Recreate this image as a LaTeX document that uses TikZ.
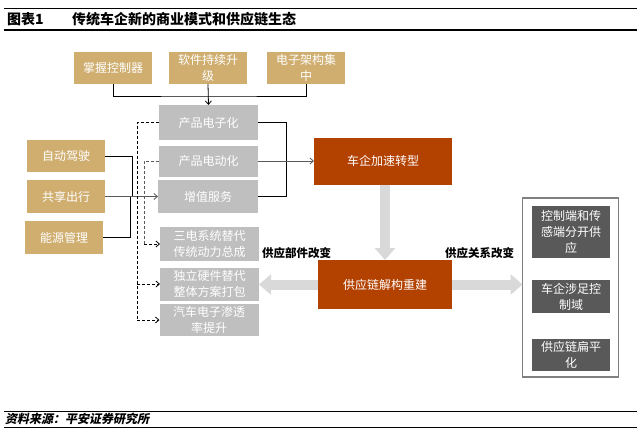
\documentclass[tikz,border=0pt]{standalone}
\usepackage{fontspec}
\setmainfont{Noto Sans CJK SC}
\usetikzlibrary{arrows.meta,calc}
\definecolor{tan}{RGB}{207,174,112}
\definecolor{boxgray}{RGB}{191,191,191}
\definecolor{rust}{RGB}{179,65,0}
\definecolor{dkgray}{RGB}{89,89,89}
\definecolor{argray}{RGB}{217,217,217}
\definecolor{frame}{RGB}{128,128,128}
\tikzset{
  every node/.style={inner sep=0pt, outer sep=0pt},
  boxtext/.style={text=white, align=center, font=\fontsize{12}{16}\selectfont},
  tanbox/.style={boxtext, fill=tan, minimum width=78pt, minimum height=32pt},
  graybox/.style={boxtext, fill=boxgray, minimum width=99pt},
  rustbox/.style={boxtext, fill=rust},
  darkbox/.style={boxtext, fill=dkgray, minimum width=78pt},
  conn/.style={line width=0.8pt, black},
  connarrow/.style={conn, -{Straight Barb[length=3.5pt,width=6pt]}},
  dashconn/.style={line width=0.8pt, black, dash pattern=on 3pt off 2pt},
  bigarrow/.style={argray, line width=10pt, -{Triangle[width=20pt,length=12pt]}},
  lbl/.style={font=\fontsize{11.5}{14}\selectfont\bfseries, text=black},
}
\begin{document}
\begin{tikzpicture}[x=1pt,y=-1pt]
\useasboundingbox (0,0) rectangle (643,444);
% header
\draw[line width=1pt] (4,9) -- (637,9);
\draw[line width=1.2pt] (4,30) -- (637,30);
\node[anchor=west, font=\fontsize{14}{16}\selectfont\bfseries] (fig) at (7,19.5) {图表1};
\node[anchor=west, font=\fontsize{14}{16}\selectfont\bfseries] (title) at (72,19.5) {传统车企新的商业模式和供应链生态};
% footer
\draw[line width=1pt] (4,411) -- (637,411);
\draw[line width=1pt] (4,427) -- (637,427);
\node[anchor=west, font=\fontsize{12}{14}\selectfont\bfseries, xslant=0.2] (src) at (6,419) {资料来源：平安证券研究所};

% top tan boxes
\node[tanbox] (ctl) at (113,68) {掌握控制器};
\node[tanbox] (sw) at (208,68) {软件持续升\\级};
\node[tanbox] (arch) at (306,68) {电子架构集\\中};

% left tan boxes
\node[tanbox] (auto) at (66,156) {自动驾驶};
\node[tanbox, minimum height=33pt] (share) at (66,196.5) {共享出行};
\node[tanbox, minimum height=33pt] (energy) at (64,237.5) {能源管理};

% gray column
\node[graybox, minimum height=35pt] (p1) at (208.5,122.5) {产品电子化};
\node[graybox, minimum height=31pt] (p2) at (208.5,161) {产品电动化};
\node[graybox, minimum width=100pt, minimum height=33pt] (p3) at (208,196.5) {增值服务};
\node[graybox, minimum height=34pt] (p4) at (209.5,244) {三电系统替代\\传统动力总成};
\node[graybox, minimum height=33pt] (p5) at (209.5,284) {独立硬件替代\\整体方案打包};
\node[graybox, minimum height=32pt] (p6) at (209,320) {汽车电子渗透\\率提升};

% rust boxes
\node[rustbox, minimum width=138pt, minimum height=47pt] (o1) at (383,161) {车企加速转型};
\node[rustbox, minimum width=134pt, minimum height=49pt] (o2) at (385,284.5) {供应链解构重建};

% right frame
\node[draw=frame, line width=1.6pt, minimum width=96pt, minimum height=179pt] (outer) at (570.5,287.5) {};
\node[darkbox, minimum height=52pt] (q1) at (571,232) {控制端和传\\感端分开供\\应};
\node[darkbox, minimum height=33pt] (q2) at (571,296.5) {车企涉足控\\制域};
\node[darkbox, minimum height=32pt] (q3) at (571,355) {供应链扁平\\化};

% labels
\node[lbl, anchor=west] (l1) at (262,253) {供应部件改变};
\node[lbl, anchor=west] (l2) at (445,253) {供应关系改变};

% top connectors
\coordinate (jt) at (208,96);
\draw[conn] (ctl.south) |- (jt) -| (arch.south);
\draw[connarrow] (sw.south) -- (p1.north);

% left connectors
\coordinate (jl1) at (132,196.5);
\coordinate (jl2) at (130,196.5);
\draw[conn] (auto.east) -| (jl1);
\draw[conn] (energy.east) -| (jl2);
\draw[connarrow, dkgray] (share.east) -- (p3.west);

% dashed connectors
\coordinate (d1) at (137,320);
\coordinate (d2) at (137,284);
\coordinate (d3) at (144,244);
\draw[dashconn] (p1.west) -| (d1);
\draw[dashconn, -{Straight Barb[length=3.5pt,width=6pt]}] (d2) -- (p5.west);
\draw[dashconn, -{Straight Barb[length=3.5pt,width=6pt]}] (d1) -- (p6.west);
\draw[dashconn, dkgray] (p2.west) -| (d3);
\draw[dashconn, -{Straight Barb[length=3.5pt,width=6pt]}] (d3) -- (p4.west);

% right connectors
\coordinate (jr) at (286,161);
\draw[conn] (p1.east) -| (jr);
\draw[conn] (p3.east) -| (jr);
\draw[connarrow, dkgray] (p2.east) -- (o1.west);

% big arrows
\draw[bigarrow] (o1.south -| o2.north) -- (o2.north);
\draw[bigarrow] (o2.west) -- (o2.west -| p5.east);
\draw[bigarrow] (o2.east) -- (o2.east -| outer.west);
\end{tikzpicture}
\end{document}
